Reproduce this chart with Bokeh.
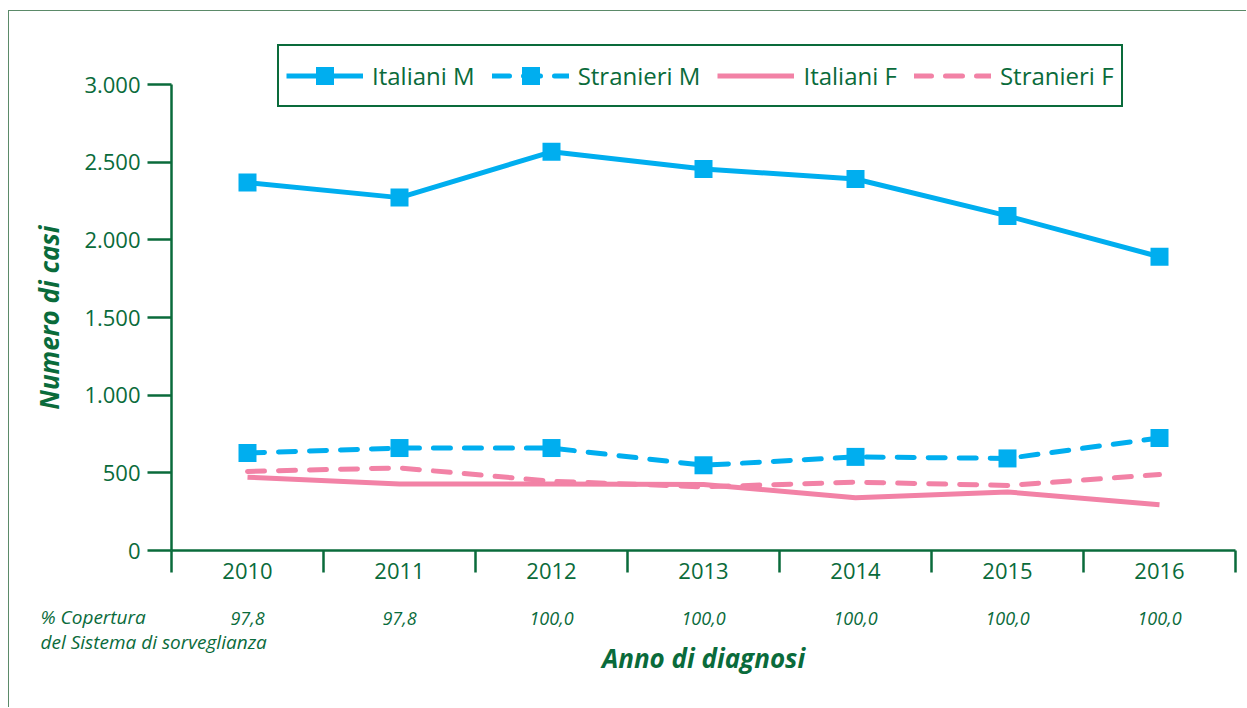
from bokeh.plotting import figure
from bokeh.models import (Range1d, LinearAxis, FixedTicker, Legend, LegendItem,
                          Label, ColumnDataSource)
from bokeh.embed import file_html
from bokeh.resources import INLINE

# ---------------- data ----------------
years = [2010, 2011, 2012, 2013, 2014, 2015, 2016]
italiani_m = [2370, 2273, 2568, 2458, 2393, 2155, 1892]
stranieri_m = [628, 660, 660, 549, 603, 593, 725]
italiani_f = [472, 428, 428, 425, 340, 377, 295]
stranieri_f = [509, 532, 446, 410, 440, 419, 489]
coverage = ["97,8", "97,8", "100,0", "100,0", "100,0", "100,0", "100,0"]
y_ticks = [0, 500, 1000, 1500, 2000, 2500, 3000]
y_tick_labels = ["0", "500", "1.000", "1.500", "2.000", "2.500", "3.000"]
series_names = ["Italiani M", "Stranieri M", "Italiani F", "Stranieri F"]
coverage_title = ["% Copertura", "del Sistema di sorveglianza"]
x_title = "Anno di diagnosi"
y_title = "Numero di casi"

# ---------------- style ----------------
GREEN = "#0a6b3b"
BLUE = "#00aeef"
PINK = "#f282a6"
FONT = "Open Sans"

bounds = [y - 0.5 for y in years] + [years[-1] + 0.5]
Y_TOP = 3285  # frame extends above the last tick to hold the legend
FRAME_W, FRAME_H = 1064, 510
px_x = FRAME_W / (bounds[-1] - bounds[0])
px_y = FRAME_H / (Y_TOP - y_ticks[0])

p = figure(width=1238, height=697, output_backend="svg", toolbar_location=None,
           x_range=Range1d(bounds[0], bounds[-1]), y_range=Range1d(y_ticks[0], Y_TOP),
           min_border_left=162, min_border_right=12, min_border_top=29, min_border_bottom=158,
           x_axis_type=None, y_axis_type=None)
p.outline_line_color = None
p.background_fill_color = "white"
p.border_fill_color = "white"
p.margin = (10, 0, 0, 8)
p.styles = {"border-left": "1px solid #5b8a69", "border-top": "1px solid #5b8a69"}

yax = LinearAxis(ticker=FixedTicker(ticks=y_ticks, minor_ticks=[]),
                 bounds=(y_ticks[0], y_ticks[-1]),
                 major_label_overrides={t: l for t, l in zip(y_ticks, y_tick_labels)},
                 axis_line_color=GREEN, axis_line_width=2.5,
                 major_tick_line_color=GREEN, major_tick_line_width=2.5,
                 major_tick_out=24, major_tick_in=0,
                 minor_tick_line_color=None,
                 major_label_text_color=GREEN, major_label_text_font=FONT,
                 major_label_text_font_size="22px", major_label_standoff=7)
p.add_layout(yax, "left")

# y title: a label-only axis, centred on the 0..3000 span of the value axis
y_mid = (y_ticks[0] + y_ticks[-1]) / 2
ytitle_ax = LinearAxis(ticker=FixedTicker(ticks=[y_mid], minor_ticks=[]),
                       major_label_overrides={y_mid: y_title},
                       major_label_orientation="parallel",
                       axis_line_color=None, major_tick_line_color=None,
                       minor_tick_line_color=None, major_tick_out=0, major_tick_in=0,
                       major_label_text_color=GREEN, major_label_text_font=FONT,
                       major_label_text_font_style="bold italic",
                       major_label_text_font_size="26px", major_label_standoff=14)
p.add_layout(ytitle_ax, "left")

xax = LinearAxis(ticker=FixedTicker(ticks=years, minor_ticks=bounds),
                 major_label_overrides={y: str(y) for y in years},
                 axis_line_color=GREEN, axis_line_width=2.5,
                 major_tick_line_color=None, major_tick_out=0, major_tick_in=0,
                 minor_tick_line_color=GREEN, minor_tick_line_width=2.5,
                 minor_tick_out=22, minor_tick_in=0,
                 major_label_text_color=GREEN, major_label_text_font=FONT,
                 major_label_text_font_size="22px", major_label_standoff=-10)
p.add_layout(xax, "below")

# caption of the coverage row, left of the frame (in the bottom panel,
# positioned through the plot's own scales)
for i, t in enumerate(coverage_title):
    p.add_layout(Label(x=bounds[0] - 131 / px_x, y=y_ticks[0] - (66 + 25 * i) / px_y,
                       x_units="data", y_units="data",
                       text=t, text_font=FONT, text_font_style="italic",
                       text_font_size="19px", text_color=GREEN,
                       text_baseline="middle", text_align="left"), "below")

cax = LinearAxis(ticker=FixedTicker(ticks=years, minor_ticks=[]),
                 major_label_overrides={y: c for y, c in zip(years, coverage)},
                 axis_line_color=None, major_tick_line_color=None,
                 minor_tick_line_color=None, major_tick_out=0, major_tick_in=0,
                 major_label_text_color=GREEN, major_label_text_font=FONT,
                 major_label_text_font_style="italic",
                 major_label_text_font_size="18px", major_label_standoff=-22,
                 axis_label=x_title, axis_label_text_font=FONT,
                 axis_label_text_font_style="bold italic",
                 axis_label_text_font_size="26px", axis_label_text_color=GREEN,
                 axis_label_standoff=12)
p.add_layout(cax, "below")

src = ColumnDataSource(dict(year=years, im=italiani_m, sm=stranieri_m,
                            itf=italiani_f, sf=stranieri_f))

r_if = p.line("year", "itf", source=src, line_color=PINK, line_width=5)
r_sf = p.line("year", "sf", source=src, line_color=PINK, line_width=5,
              line_dash="17 14", line_cap="round")
r_sm = p.line("year", "sm", source=src, line_color=BLUE, line_width=5,
              line_dash="17 14", line_cap="round")
r_smm = p.scatter("year", "sm", source=src, marker="square", size=18,
                  fill_color=BLUE, line_color=None)
r_im = p.line("year", "im", source=src, line_color=BLUE, line_width=5)
r_imm = p.scatter("year", "im", source=src, marker="square", size=18,
                  fill_color=BLUE, line_color=None)

legend = Legend(items=[LegendItem(label=series_names[0], renderers=[r_im, r_imm]),
                       LegendItem(label=series_names[1], renderers=[r_sm, r_smm]),
                       LegendItem(label=series_names[2], renderers=[r_if]),
                       LegendItem(label=series_names[3], renderers=[r_sf])],
                orientation="horizontal", location=(106, 443),
                glyph_width=77, glyph_height=45, label_standoff=9, spacing=17,
                padding=7, margin=0,
                border_line_color=GREEN, border_line_width=2.5, border_line_alpha=1,
                background_fill_color="white", background_fill_alpha=1,
                label_text_font=FONT, label_text_font_size="24px",
                label_text_color=GREEN)
p.add_layout(legend, "center")

open("out.html", "w").write(file_html(p, INLINE))
